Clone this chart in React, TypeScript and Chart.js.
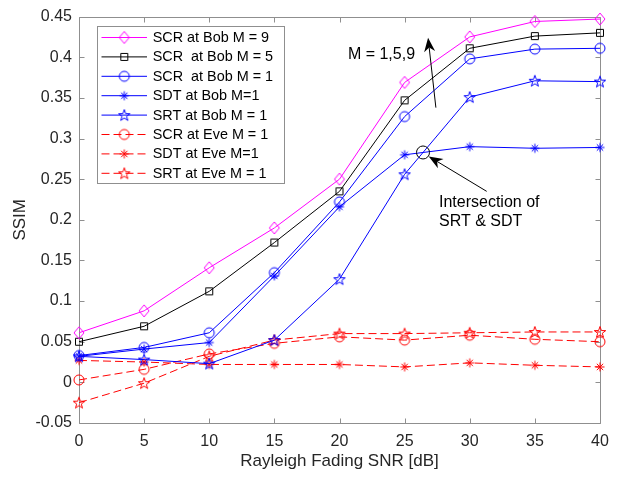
import React, { useEffect, useRef } from 'react';
import { Chart, registerables } from 'chart.js';

Chart.register(...registerables);

// ---------------- data ----------------
const snrDb = [0, 5, 10, 15, 20, 25, 30, 35, 40];

const scrBobM9 = [0.061, 0.088, 0.141, 0.19, 0.25, 0.369, 0.425, 0.444, 0.447];
const scrBobM5 = [0.05, 0.069, 0.112, 0.172, 0.235, 0.347, 0.411, 0.426, 0.43];
const scrBobM1 = [0.033, 0.043, 0.061, 0.135, 0.222, 0.327, 0.398, 0.41, 0.411];
const sdtBobM1 = [0.032, 0.041, 0.049, 0.131, 0.216, 0.28, 0.29, 0.288, 0.289];
const srtBobM1 = [0.032, 0.028, 0.023, 0.052, 0.127, 0.256, 0.351, 0.371, 0.37];
const scrEveM1 = [0.003, 0.016, 0.035, 0.048, 0.056, 0.052, 0.058, 0.053, 0.05];
const sdtEveM1 = [0.027, 0.025, 0.022, 0.022, 0.022, 0.019, 0.024, 0.021, 0.019];
const srtEveM1 = [-0.025, -0.001, 0.032, 0.052, 0.06, 0.06, 0.061, 0.062, 0.062];

const legendLabels = [
  'SCR at Bob M = 9',
  'SCR  at Bob M = 5',
  'SCR  at Bob M = 1',
  'SDT at Bob M=1',
  'SRT at Bob M = 1',
  'SCR at Eve M = 1',
  'SDT at Eve M=1',
  'SRT at Eve M = 1',
];

const xTickValues = [0, 5, 10, 15, 20, 25, 30, 35, 40];
const xTickLabels = ['0', '5', '10', '15', '20', '25', '30', '35', '40'];
const yTickValues = [-0.05, 0, 0.05, 0.1, 0.15, 0.2, 0.25, 0.3, 0.35, 0.4, 0.45];
const yTickLabels = ['-0.05', '0', '0.05', '0.1', '0.15', '0.2', '0.25', '0.3', '0.35', '0.4', '0.45'];

const xTitle = 'Rayleigh Fading SNR [dB]';
const yTitle = 'SSIM';

// annotation anchors (data units)
const mArrowFrom = [27.4, 0.338];
const mArrowTo = [26.8, 0.424];
const mLabel = 'M = 1,5,9';
const mLabelPos = [25.8, 0.403];
const intArrowFrom = [31.3, 0.235];
const intArrowTo = [26.85, 0.278];
const intLabelLines = ['Intersection of', 'SRT & SDT'];
const intLabelPos = [27.64, 0.2207];
const intLabelStep = 0.0232;

// ---------------- styles ----------------
const FONT = "'Liberation Sans', Arial, Helvetica, sans-serif";
const TEXT = '#262626';
const BOX = '#8f8f8f';
const MAGENTA = '#ff00ff';
const BLACK = '#000000';
const BLUE = '#0000ff';
const RED = '#ff0000';

type MarkerKind = 'diamond' | 'square' | 'circle' | 'asterisk' | 'pentagram';

function makeMarker(kind: MarkerKind, color: string): HTMLCanvasElement {
  const s = 16;
  const c = 8;
  const cv = document.createElement('canvas');
  cv.width = s;
  cv.height = s;
  const ctx = cv.getContext('2d') as CanvasRenderingContext2D;
  ctx.strokeStyle = color;
  ctx.lineWidth = 1;
  ctx.beginPath();
  if (kind === 'diamond') {
    ctx.moveTo(c, c - 6);
    ctx.lineTo(c + 5, c);
    ctx.lineTo(c, c + 6);
    ctx.lineTo(c - 5, c);
    ctx.closePath();
  } else if (kind === 'square') {
    ctx.rect(c - 3.5, c - 3.5, 7, 7);
  } else if (kind === 'circle') {
    ctx.arc(c, c, 5, 0, Math.PI * 2);
  } else if (kind === 'asterisk') {
    const r = 4.5;
    for (let k = 0; k < 4; k++) {
      const a = (k * Math.PI) / 4;
      ctx.moveTo(c - Math.cos(a) * r, c - Math.sin(a) * r);
      ctx.lineTo(c + Math.cos(a) * r, c + Math.sin(a) * r);
    }
  } else {
    const R = 6;
    const r = 2.4;
    for (let k = 0; k < 10; k++) {
      const a = -Math.PI / 2 + (k * Math.PI) / 5;
      const rr = k % 2 === 0 ? R : r;
      const px = c + Math.cos(a) * rr;
      const py = c + 0.5 + Math.sin(a) * rr;
      if (k === 0) ctx.moveTo(px, py);
      else ctx.lineTo(px, py);
    }
    ctx.closePath();
  }
  ctx.stroke();
  return cv;
}

function drawArrow(ctx: CanvasRenderingContext2D, x1: number, y1: number, x2: number, y2: number) {
  const dx = x2 - x1;
  const dy = y2 - y1;
  const len = Math.hypot(dx, dy);
  const ux = dx / len;
  const uy = dy / len;
  const nx = -uy;
  const ny = ux;
  const L = 14;
  const W = 5.5;
  ctx.save();
  ctx.strokeStyle = '#000';
  ctx.fillStyle = '#000';
  ctx.lineWidth = 1;
  ctx.beginPath();
  ctx.moveTo(x1, y1);
  ctx.lineTo(x2 - ux * L * 0.7, y2 - uy * L * 0.7);
  ctx.stroke();
  ctx.beginPath();
  ctx.moveTo(x2, y2);
  ctx.lineTo(x2 - ux * L + nx * W, y2 - uy * L + ny * W);
  ctx.lineTo(x2 - ux * L * 0.7, y2 - uy * L * 0.7);
  ctx.lineTo(x2 - ux * L - nx * W, y2 - uy * L - ny * W);
  ctx.closePath();
  ctx.fill();
  ctx.restore();
}

function findIntersection(a: number[], b: number[]): [number, number] | null {
  for (let i = snrDb.length - 2; i >= 1; i--) {
    const d0 = a[i] - b[i];
    const d1 = a[i + 1] - b[i + 1];
    if (d0 === 0) return [snrDb[i], a[i]];
    if (d0 * d1 < 0) {
      const t = d0 / (d0 - d1);
      return [snrDb[i] + t * (snrDb[i + 1] - snrDb[i]), a[i] + t * (a[i + 1] - a[i])];
    }
  }
  return null;
}

export default function App() {
  const ref = useRef<HTMLCanvasElement>(null);

  useEffect(() => {
    document.body.style.margin = '0';
    const canvas = ref.current as HTMLCanvasElement;

    const series = [
      { label: legendLabels[0], values: scrBobM9, color: MAGENTA, marker: 'diamond' as MarkerKind, dash: [] as number[] },
      { label: legendLabels[1], values: scrBobM5, color: BLACK, marker: 'square' as MarkerKind, dash: [] as number[] },
      { label: legendLabels[2], values: scrBobM1, color: BLUE, marker: 'circle' as MarkerKind, dash: [] as number[] },
      { label: legendLabels[3], values: sdtBobM1, color: BLUE, marker: 'asterisk' as MarkerKind, dash: [] as number[] },
      { label: legendLabels[4], values: srtBobM1, color: BLUE, marker: 'pentagram' as MarkerKind, dash: [] as number[] },
      { label: legendLabels[5], values: scrEveM1, color: RED, marker: 'circle' as MarkerKind, dash: [8, 4] },
      { label: legendLabels[6], values: sdtEveM1, color: RED, marker: 'asterisk' as MarkerKind, dash: [8, 4] },
      { label: legendLabels[7], values: srtEveM1, color: RED, marker: 'pentagram' as MarkerKind, dash: [8, 4] },
    ].map((s) => ({ ...s, img: makeMarker(s.marker, s.color) }));

    const datasets = series.map((s) => ({
      label: s.label,
      data: snrDb.map((x, i) => ({ x, y: s.values[i] })),
      borderColor: s.color,
      backgroundColor: s.color,
      borderWidth: 1,
      borderDash: s.dash,
      pointStyle: s.img as any,
      pointRadius: 6,
      pointHoverRadius: 6,
      tension: 0,
      fill: false,
      clip: false as any,
    }));

    const matlabPlugin = {
      id: 'matlabLook',
      beforeDatasetsDraw(chart: any) {
        const { ctx, chartArea: a, scales } = chart;
        const xs = scales.x;
        const ys = scales.y;
        const L = Math.round(a.left) + 0.5;
        const R = Math.round(a.right) + 0.5;
        const T = Math.round(a.top) + 0.5;
        const B = Math.round(a.bottom) + 0.5;
        ctx.save();
        ctx.strokeStyle = BOX;
        ctx.lineWidth = 1;
        ctx.beginPath();
        ctx.rect(L, T, R - L, B - T);
        const tl = 5;
        yTickValues.forEach((v) => {
          const py = Math.round(ys.getPixelForValue(v)) + 0.5;
          ctx.moveTo(L, py);
          ctx.lineTo(L + tl, py);
          ctx.moveTo(R, py);
          ctx.lineTo(R - tl, py);
        });
        xTickValues.forEach((v) => {
          const px = Math.round(xs.getPixelForValue(v)) + 0.5;
          ctx.moveTo(px, B);
          ctx.lineTo(px, B - tl);
          ctx.moveTo(px, T);
          ctx.lineTo(px, T + tl);
        });
        ctx.stroke();
        ctx.restore();
      },
      afterDraw(chart: any) {
        const { ctx, scales } = chart;
        const xs = scales.x;
        const ys = scales.y;
        const px = (v: number) => xs.getPixelForValue(v);
        const py = (v: number) => ys.getPixelForValue(v);

        // legend
        const lx0 = 97.5;
        const ly0 = 26.5;
        const lx1 = 284.5;
        const ly1 = 183.5;
        ctx.save();
        ctx.fillStyle = '#ffffff';
        ctx.fillRect(lx0, ly0, lx1 - lx0, ly1 - ly0);
        ctx.strokeStyle = BOX;
        ctx.lineWidth = 1;
        ctx.strokeRect(lx0, ly0, lx1 - lx0, ly1 - ly0);
        ctx.font = `14.4px ${FONT}`;
        ctx.textBaseline = 'middle';
        ctx.textAlign = 'left';
        series.forEach((s, i) => {
          const ry = 37.5 + i * 19.4;
          ctx.beginPath();
          ctx.strokeStyle = s.color;
          ctx.setLineDash(s.dash);
          ctx.moveTo(101.5, ry);
          ctx.lineTo(147, ry);
          ctx.stroke();
          ctx.setLineDash([]);
          ctx.drawImage(s.img, 124.3 - s.img.width / 2, ry - s.img.height / 2);
          ctx.fillStyle = '#000';
          ctx.fillText(s.label, 152.7, ry + 0.5);
        });
        ctx.restore();

        // annotations
        ctx.save();
        ctx.font = `16px ${FONT}`;
        ctx.fillStyle = '#000';
        ctx.textBaseline = 'middle';
        ctx.textAlign = 'right';
        ctx.fillText(mLabel, px(mLabelPos[0]), py(mLabelPos[1]));
        ctx.textAlign = 'left';
        intLabelLines.forEach((t, i) => {
          ctx.fillText(t, px(intLabelPos[0]), py(intLabelPos[1] - i * intLabelStep));
        });
        ctx.restore();

        drawArrow(ctx, px(mArrowFrom[0]), py(mArrowFrom[1]), px(mArrowTo[0]), py(mArrowTo[1]));
        drawArrow(ctx, px(intArrowFrom[0]), py(intArrowFrom[1]), px(intArrowTo[0]), py(intArrowTo[1]));

        const ip = findIntersection(srtBobM1, sdtBobM1);
        if (ip) {
          ctx.save();
          ctx.strokeStyle = '#000';
          ctx.lineWidth = 1;
          ctx.beginPath();
          ctx.arc(px(ip[0]), py(ip[1]), 6.5, 0, Math.PI * 2);
          ctx.stroke();
          ctx.restore();
        }
      },
    };

    const chart = new Chart(canvas, {
      type: 'line',
      data: { datasets: datasets as any },
      options: {
        responsive: false,
        animation: false,
        devicePixelRatio: 1,
        events: [],
        layout: { padding: { left: 0, right: 23, top: 13, bottom: 0 } },
        plugins: {
          legend: { display: false },
          tooltip: { enabled: false },
        },
        scales: {
          x: {
            type: 'linear',
            min: 0,
            max: 40,
            grid: { display: false, drawTicks: false },
            border: { display: false },
            afterBuildTicks: (s: any) => {
              s.ticks = xTickValues.map((value) => ({ value }));
            },
            afterFit: (s: any) => {
              s.height = 55;
            },
            ticks: {
              padding: 9,
              color: TEXT,
              font: { family: FONT, size: 16 },
              maxRotation: 0,
              autoSkip: false,
              callback: (v: any) => {
                const i = xTickValues.indexOf(Number(v));
                return i >= 0 ? xTickLabels[i] : '';
              },
            },
            title: {
              display: true,
              text: xTitle,
              color: TEXT,
              font: { family: FONT, size: 17 },
              padding: { top: 0, bottom: 6 },
            },
          },
          y: {
            type: 'linear',
            min: -0.05,
            max: 0.45,
            grid: { display: false, drawTicks: false },
            border: { display: false },
            afterBuildTicks: (s: any) => {
              s.ticks = yTickValues.map((value) => ({ value }));
            },
            afterFit: (s: any) => {
              s.width = 79;
            },
            ticks: {
              padding: 7,
              color: TEXT,
              font: { family: FONT, size: 16 },
              autoSkip: false,
              callback: (v: any) => {
                const i = yTickValues.findIndex((t) => Math.abs(t - Number(v)) < 1e-9);
                return i >= 0 ? yTickLabels[i] : '';
              },
            },
            title: {
              display: true,
              text: yTitle,
              color: TEXT,
              font: { family: FONT, size: 17 },
              padding: { top: 10.5, bottom: 0 },
            },
          },
        },
      },
      plugins: [matlabPlugin as any],
    });

    return () => {
      chart.destroy();
    };
  }, []);

  return (
    <div style={{ position: 'absolute', left: 0, top: 0, width: 623, height: 478 }}>
      <canvas ref={ref} width={623} height={478} style={{ display: 'block', width: 623, height: 478 }} />
    </div>
  );
}
